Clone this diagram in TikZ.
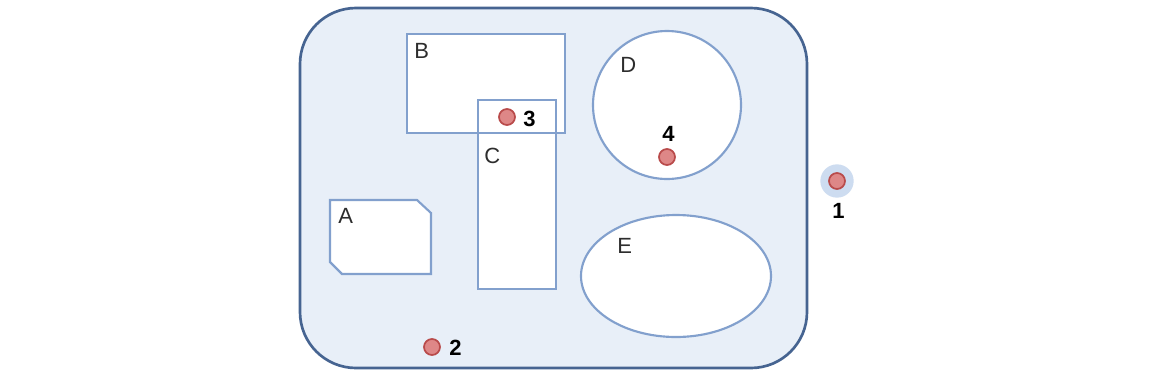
\documentclass[tikz,border=0pt]{standalone}
\usepackage{fontspec}
\setmainfont{Liberation Sans}
\begin{document}
\begin{tikzpicture}[x=0.75pt,y=-0.75pt,
  frame/.style={draw={rgb,255:red,70;green,100;blue,145},line width=2pt,fill={rgb,255:red,232;green,239;blue,248}},
  region/.style={draw={rgb,255:red,130;green,160;blue,205},line width=1.6pt,fill=white},
  regionline/.style={draw={rgb,255:red,130;green,160;blue,205},line width=1.6pt},
  letter/.style={anchor=base west,inner sep=0pt,text={rgb,255:red,45;green,45;blue,45},font=\fontsize{16.5}{18}\selectfont},
  num/.style={anchor=base west,inner sep=0pt,font=\fontsize{16.5}{18}\selectfont\bfseries},
  pnt/.style={circle,inner sep=0pt,minimum size=12pt,line width=1.3pt,
    draw={rgb,255:red,185;green,75;blue,75},fill={rgb,255:red,222;green,135;blue,135}},
  halo/.style={circle,inner sep=0pt,minimum size=25pt,fill={rgb,255:red,205;green,220;blue,240}}]
\useasboundingbox (0,0) rectangle (1149,390);
\fill[white] (0,0) rectangle (1149,390);

% universe
\draw[frame,rounded corners=42pt] (300,8) rectangle (807,368);

% regions: fills first, then outlines so overlaps stay visible
\fill[white] (407,34) rectangle (565,133);
\fill[white] (478,100) rectangle (556,289);
\draw[regionline] (407,34) rectangle (565,133);
\draw[regionline] (478,100) rectangle (556,289);
\draw[region] (330,200) -- (417,200) -- (431,213) -- (431,274) -- (342,274) -- (330,262) -- cycle;
\draw[region] (667,105) circle[radius=74];
\draw[region] (676,276) ellipse[x radius=95,y radius=61];

% region labels
\node[letter] (lA) at (338,223) {A};
\node[letter] (lB) at (414,58) {B};
\node[letter] (lC) at (484,163) {C};
\node[letter] (lD) at (620,72) {D};
\node[letter] (lE) at (617,253) {E};

% points
\node[halo] (h1) at (837,181) {};
\node[pnt] (p1) at (837,181) {};
\node[pnt] (p2) at (432,347) {};
\node[pnt] (p3) at (507,117) {};
\node[pnt] (p4) at (667,157) {};
\node[num] (n1) at (832,218) {1};
\node[num] (n2) at (449,355) {2};
\node[num] (n3) at (523,126) {3};
\node[num] (n4) at (662,141) {4};
\end{tikzpicture}
\end{document}
